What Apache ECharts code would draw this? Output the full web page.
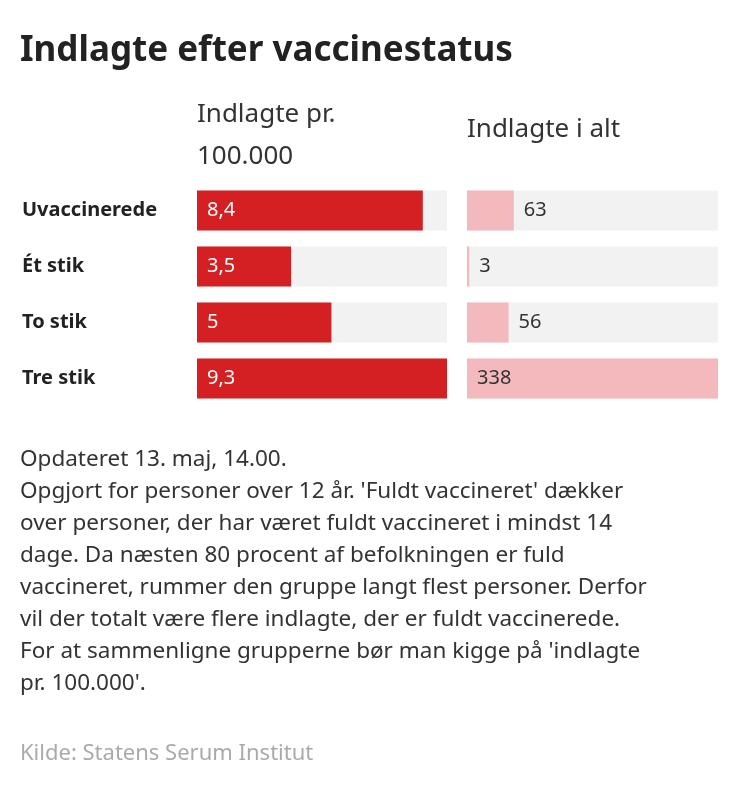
<!DOCTYPE html>
<html>
<head>
<meta charset="utf-8">
<script src="https://cdn.jsdelivr.net/npm/echarts@6/dist/echarts.min.js"></script>
<style>html,body{margin:0;padding:0;background:#fff}#chart{width:750px;height:804px}</style>
</head>
<body>
<div id="chart"></div>
<script>
// data
var categories = ['Uvaccinerede', 'Ét stik', 'To stik', 'Tre stik'];
var perHundredK = [8.4, 3.5, 5, 9.3];
var totalAdmitted = [63, 3, 56, 338];
var noteLines = [
    'Opdateret 13. maj, 14.00.',
    "Opgjort for personer over 12 år. 'Fuldt vaccineret' dækker",
    'over personer, der har været fuldt vaccineret i mindst 14',
    'dage. Da næsten 80 procent af befolkningen er fuld',
    'vaccineret, rummer den gruppe langt flest personer. Derfor',
    'vil der totalt være flere indlagte, der er fuldt vaccinerede.',
    "For at sammenligne grupperne bør man kigge på 'indlagte",
    "pr. 100.000'."
];

var font = '"Noto Sans", sans-serif';
var chart = echarts.init(document.getElementById('chart'));

var graphics = [
    { type: 'text', left: 20, top: 34, style: { text: 'Indlagte efter vaccinestatus', font: 'bold 35px ' + font, fill: '#222' } },
    { type: 'text', left: 197, top: 94, style: { text: 'Indlagte pr.\n100.000', font: '26px ' + font, fill: '#333', lineHeight: 42 } },
    { type: 'text', left: 467, top: 117, style: { text: 'Indlagte i alt', font: '26px ' + font, fill: '#333' } },
    { type: 'text', left: 20, top: 743, style: { text: 'Kilde: Statens Serum Institut', font: '22px ' + font, fill: '#aaa' } }
];
noteLines.forEach(function (line, i) {
    graphics.push({ type: 'text', left: 20, top: 448 + i * 32, style: { text: line, font: '22.5px ' + font, fill: '#333' } });
});

var yCommon = {
    type: 'category', data: categories, inverse: true,
    axisLine: { show: false }, axisTick: { show: false }
};

chart.setOption({
    animation: false,
    graphic: graphics,
    grid: [
        { left: 197, width: 250, top: 182.5, height: 224 },
        { left: 467, width: 251, top: 182.5, height: 224 }
    ],
    xAxis: [
        { gridIndex: 0, type: 'value', min: 0, max: 9.3, show: false },
        { gridIndex: 1, type: 'value', min: 0, max: 338, show: false }
    ],
    yAxis: [
        Object.assign({ gridIndex: 0, axisLabel: { align: 'left', margin: 175, fontFamily: font, fontWeight: 'bold', fontSize: 20, color: '#222' } }, yCommon),
        Object.assign({ gridIndex: 1, axisLabel: { show: false } }, yCommon)
    ],
    series: [
        {
            type: 'bar', xAxisIndex: 0, yAxisIndex: 0, barWidth: 40,
            data: perHundredK,
            itemStyle: { color: '#d42022' },
            showBackground: true, backgroundStyle: { color: '#f2f2f2' },
            label: {
                show: true, position: 'insideLeft', distance: 10, color: '#fff', fontFamily: font, fontSize: 20,
                formatter: function (p) { return String(p.value).replace('.', ','); }
            }
        },
        {
            type: 'bar', xAxisIndex: 1, yAxisIndex: 1, barWidth: 40,
            data: totalAdmitted.map(function (v) {
                return { value: v, label: { position: v > 150 ? 'insideLeft' : 'right' } };
            }),
            itemStyle: { color: '#f4b9bc' },
            showBackground: true, backgroundStyle: { color: '#f2f2f2' },
            label: { show: true, distance: 10, color: '#333', fontFamily: font, fontSize: 20 }
        }
    ]
});
</script>
</body>
</html>
